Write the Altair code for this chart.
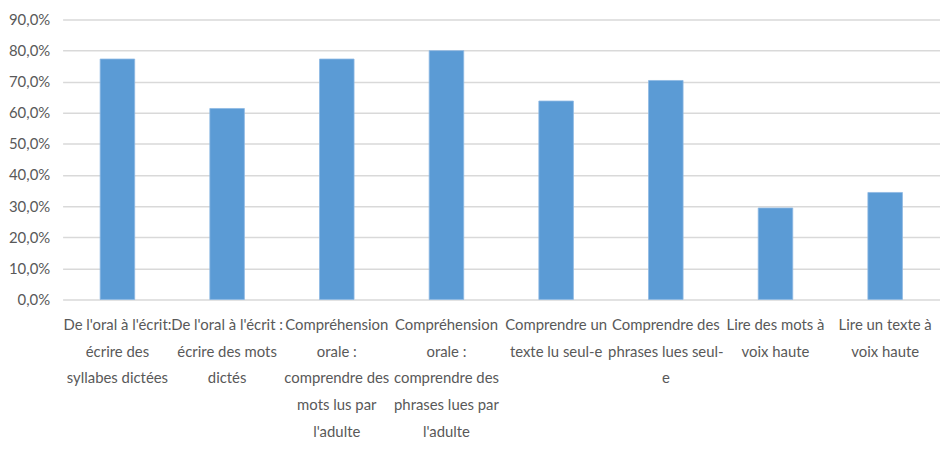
import altair as alt
import pandas as pd

categories = [
    "De l'oral à l'écrit:|écrire des|syllabes dictées",
    "De l'oral à l'écrit :|écrire des mots|dictés",
    "Compréhension|orale :|comprendre des|mots lus par|l'adulte",
    "Compréhension|orale :|comprendre des|phrases lues par|l'adulte",
    "Comprendre un|texte lu seul-e",
    "Comprendre des|phrases lues seul-|e",
    "Lire des mots à|voix haute",
    "Lire un texte à|voix haute",
]
values = [0.773, 0.614, 0.773, 0.800, 0.638, 0.704, 0.294, 0.344]
y_ticks = [0.0, 0.1, 0.2, 0.3, 0.4, 0.5, 0.6, 0.7, 0.8, 0.9]

df = pd.DataFrame({"cat": categories, "val": values})

FONT = "Lato"
TXT = "#595959"

chart = (
    alt.Chart(df)
    .mark_bar(color="#5B9BD5", stroke="#8DB8E3", strokeWidth=0.8)
    .encode(
        x=alt.X(
            "cat:N",
            sort=None,
            title=None,
            scale=alt.Scale(paddingInner=0.685, paddingOuter=0.3425),
            axis=alt.Axis(
                labelAngle=0,
                labelExpr="split(datum.label, '|')",
                labelFont=FONT,
                labelFontSize=15,
                labelColor=TXT,
                labelLineHeight=27,
                labelPadding=18,
                labelBaseline="top",
                labelLimit=200,
                ticks=False,
                domain=False,
                grid=False,
            ),
        ),
        y=alt.Y(
            "val:Q",
            title=None,
            scale=alt.Scale(domain=[0, 0.9], nice=False),
            axis=alt.Axis(
                values=y_ticks,
                labelExpr="replace(format(datum.value, '.1%'), '.', ',')",
                labelFont=FONT,
                labelFontSize=15,
                labelColor=TXT,
                labelPadding=13,
                ticks=False,
                domain=False,
                grid=True,
                gridColor="#D9D9D9",
                gridWidth=1.5,
                minExtent=55,
                maxExtent=55,
            ),
        ),
    )
    .properties(
        width=884,
        height=282,
        padding={"left": 0, "top": 3, "right": 0, "bottom": 0},
    )
    .configure_view(stroke=None)
)

chart.save("out.html", embed_options={"renderer": "svg", "actions": False})
